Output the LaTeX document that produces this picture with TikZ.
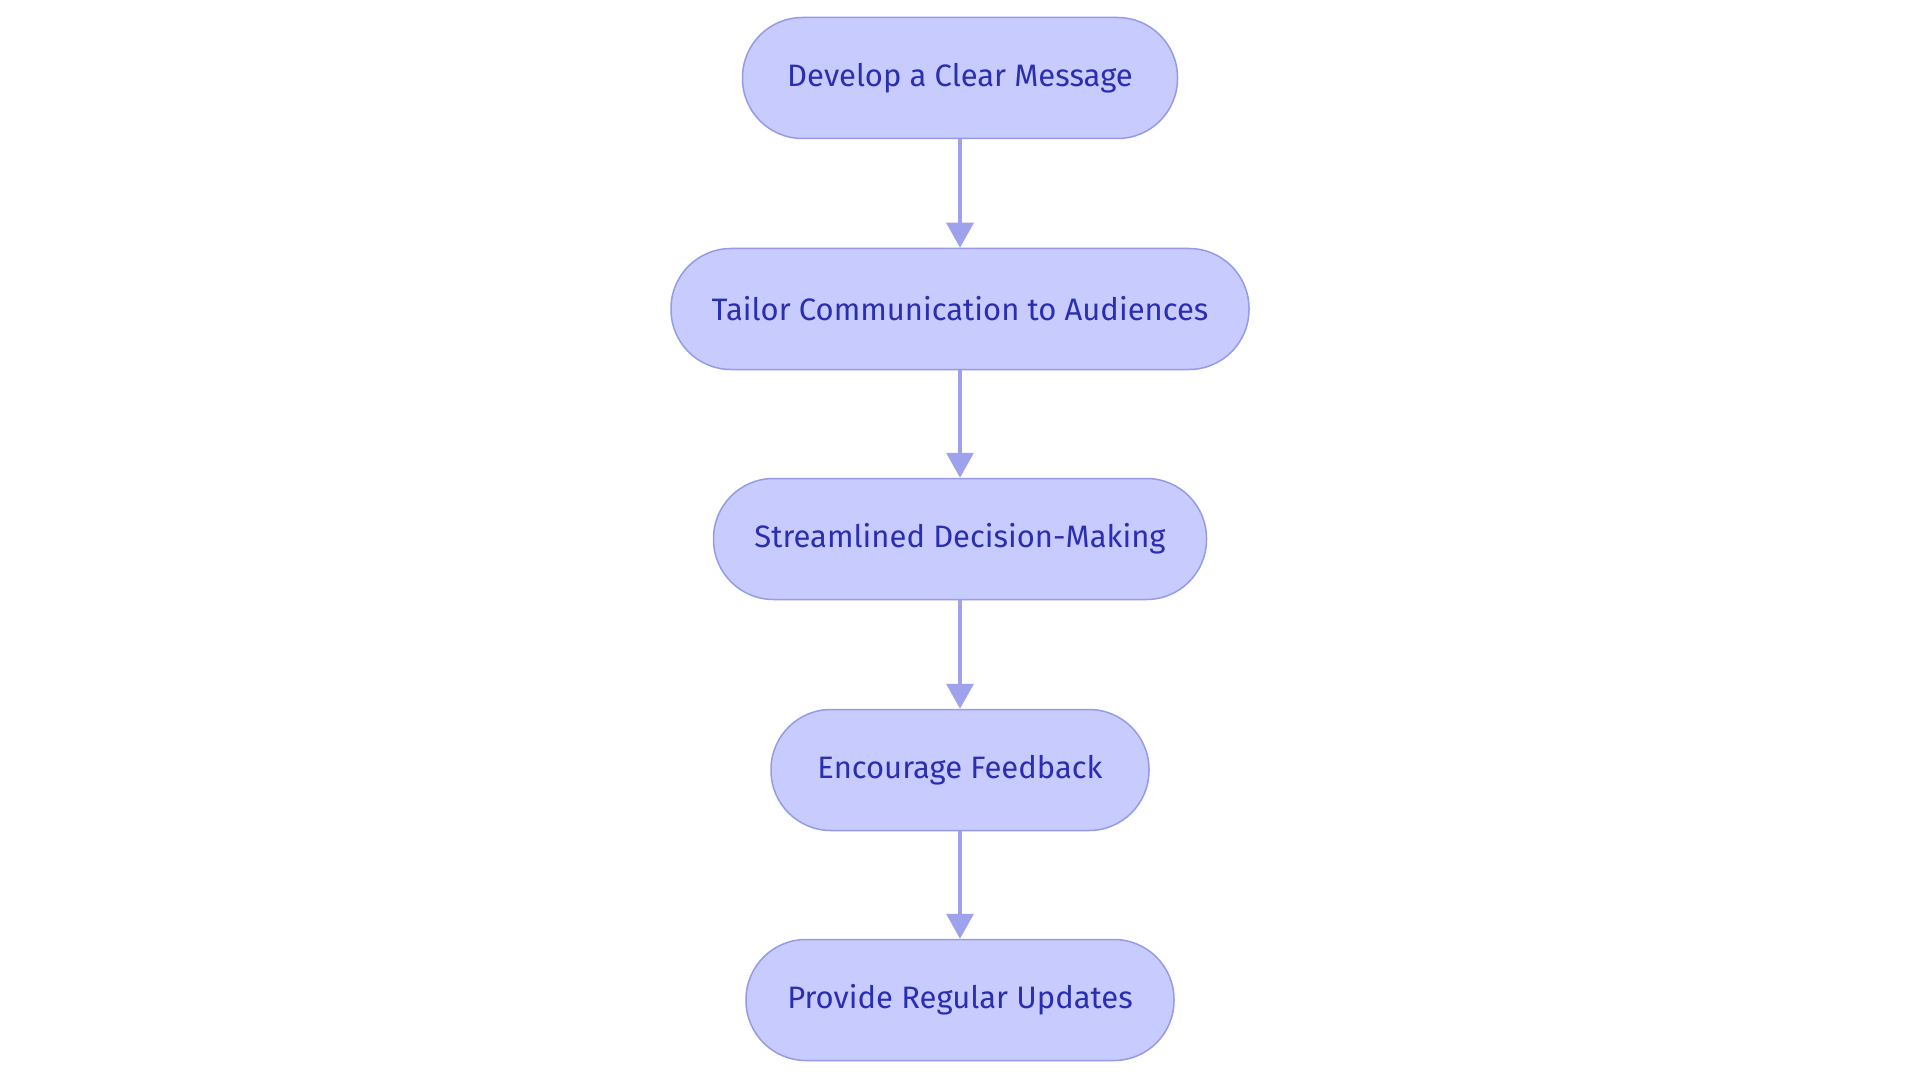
\documentclass[tikz,border=0pt]{standalone}
\usepackage{fontspec}
\setmainfont{Fira Sans}
\usetikzlibrary{arrows.meta}
\definecolor{nodefill}{RGB}{200,203,253}
\definecolor{nodeborder}{RGB}{150,155,232}
\definecolor{nodetext}{RGB}{42,46,176}
\definecolor{arrowcol}{RGB}{158,162,236}
\begin{document}
\begin{tikzpicture}[x=1pt,y=-1pt,
  box/.style={draw=nodeborder, line width=1.5pt, fill=nodefill, rounded corners=60pt,
    minimum height=121pt, inner sep=0pt, text=nodetext,
    font=\fontsize{31}{36}\selectfont},
  conn/.style={draw=arrowcol, line width=3.5pt, -{Triangle[length=25pt,width=27pt]}}]
\useasboundingbox[fill=white] (0,0) rectangle (1920,1083);
\node[box, minimum width=435pt] (n1) at (960,78) {Develop a Clear Message};
\node[box, minimum width=578pt] (n2) at (960,309) {Tailor Communication to Audiences};
\node[box, minimum width=493pt] (n3) at (960,539) {Streamlined Decision-Making};
\node[box, minimum width=378pt] (n4) at (960,770) {Encourage Feedback};
\node[box, minimum width=428pt] (n5) at (960,1000) {Provide Regular Updates};
\draw[conn] (n1.south) -- (n2.north);
\draw[conn] (n2.south) -- (n3.north);
\draw[conn] (n3.south) -- (n4.north);
\draw[conn] (n4.south) -- (n5.north);
\end{tikzpicture}
\end{document}
